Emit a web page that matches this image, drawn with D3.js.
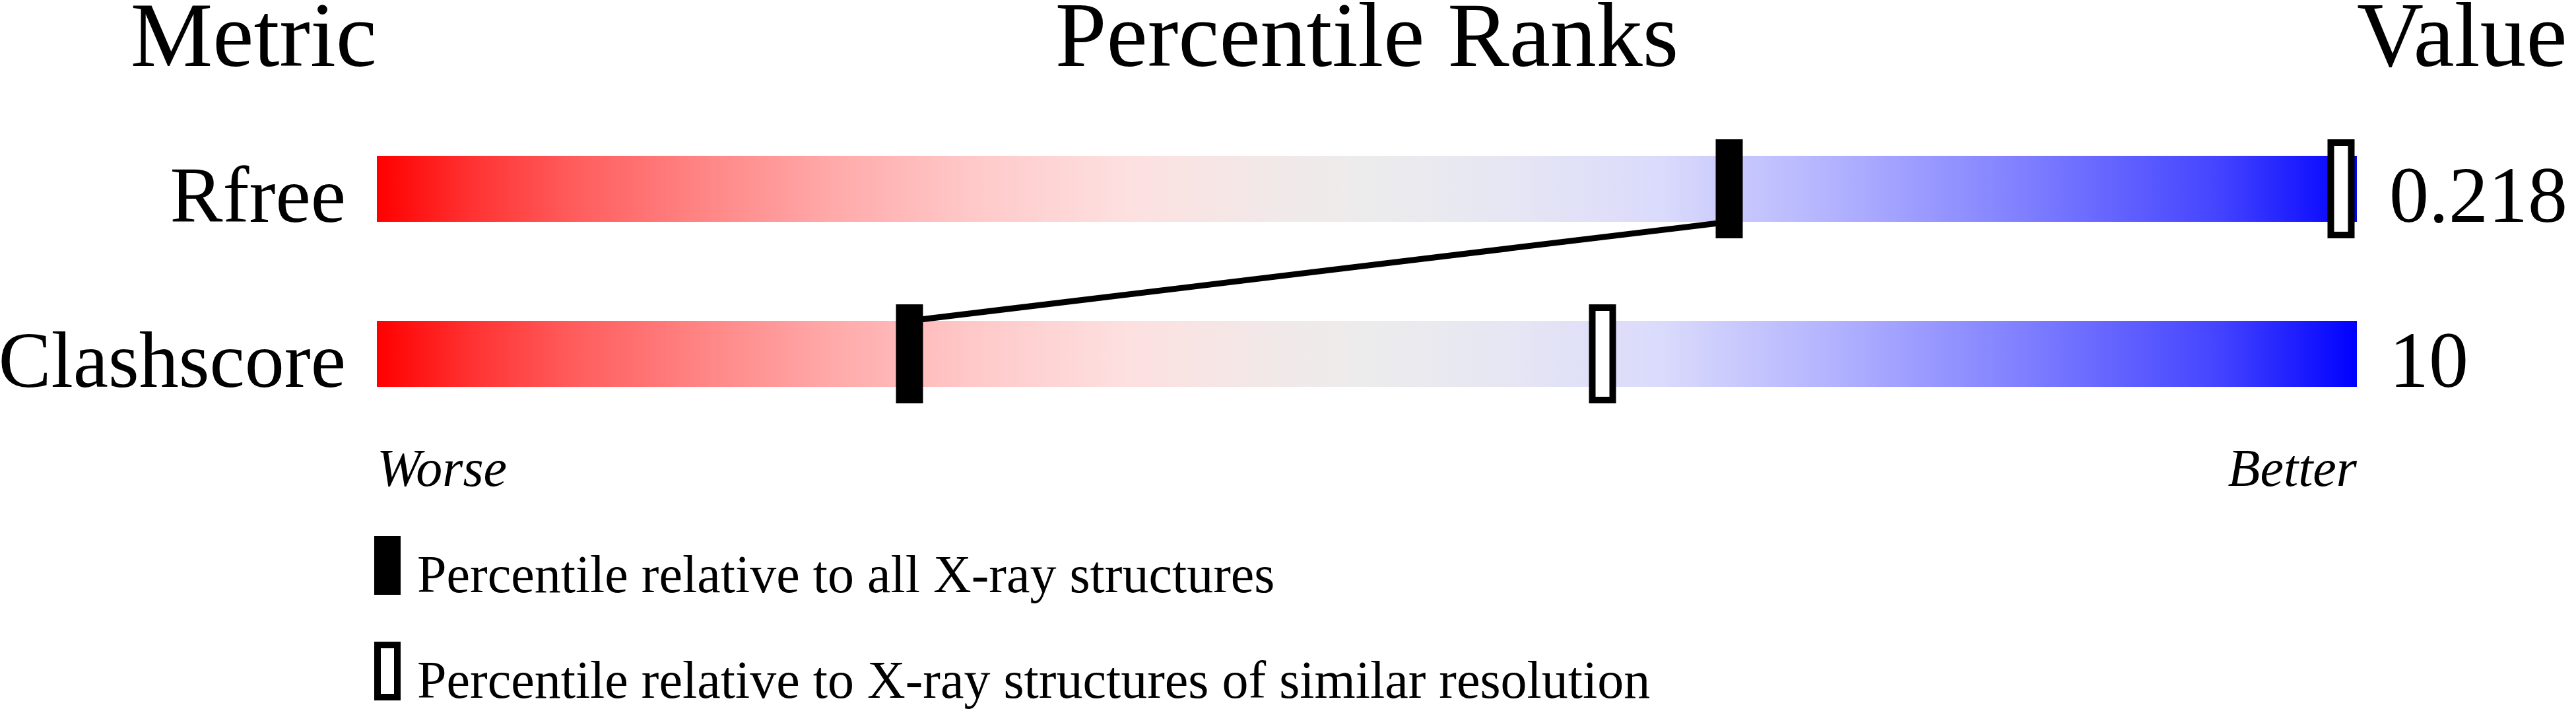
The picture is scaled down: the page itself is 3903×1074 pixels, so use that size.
<!DOCTYPE html>
<html>
<head>
<meta charset="utf-8">
<script src="https://cdn.jsdelivr.net/npm/d3@7"></script>
<style>
  html, body { margin: 0; padding: 0; background: #ffffff; }
  svg { display: block; }
  text { font-family: "Liberation Serif", "Times New Roman", serif; fill: #000; }
</style>
</head>
<body>
<div id="chart"></div>
<script>
// ---- data ----
const metrics = ["Rfree", "Clashscore"];
const valueLabels = ["0.218", "10"];
const pctAll = [68.3, 26.9];      // percentile relative to all X-ray structures
const pctSimilar = [99.2, 61.9];  // percentile relative to structures of similar resolution
const headers = ["Metric", "Percentile Ranks", "Value"];
const axisEnds = ["Worse", "Better"];
const legendLabels = [
  "Percentile relative to all X-ray structures",
  "Percentile relative to X-ray structures of similar resolution"
];

// ---- layout ----
const W = 3903, H = 1074;
const svg = d3.select("#chart").append("svg").attr("width", W).attr("height", H);

const x = d3.scaleLinear().domain([0, 100]).range([571, 3571]);
const y = d3.scaleBand().domain(metrics).range([161, 661]).paddingInner(0.6).paddingOuter(0.3);
const bw = y.bandwidth();
const markW = 41, markExt = 25;

// gradient
const defs = svg.append("defs");
const grad = defs.append("linearGradient").attr("id", "rg").attr("x1", "0%").attr("x2", "100%").attr("y1", "0%").attr("y2", "0%");
const stops = [
  [0, "#ff0000"], [0.05, "#ff3434"], [0.10, "#ff5d5d"], [0.17, "#ff8888"],
  [0.23, "#ffa9a9"], [0.30, "#ffc8c8"], [0.38, "#fde0e0"], [0.45, "#f2e8e8"],
  [0.50, "#ececec"], [0.57, "#e6e6f3"], [0.65, "#dadafc"], [0.74, "#b0b0ff"],
  [0.83, "#8080ff"], [0.93, "#4444ff"], [1, "#0000ff"]
];
grad.selectAll("stop").data(stops).join("stop")
  .attr("offset", d => d[0]).attr("stop-color", d => d[1]);

// headers
const hy = 100;
svg.append("text").attr("x", x(0)).attr("y", hy).attr("text-anchor", "end")
  .attr("font-size", 140).text(headers[0]);
svg.append("text").attr("x", (x(0) + x(100)) / 2).attr("y", hy).attr("text-anchor", "middle")
  .attr("font-size", 140).text(headers[1]);
svg.append("text").attr("x", x(100)).attr("y", hy).attr("text-anchor", "start")
  .attr("font-size", 140).text(headers[2]);

// bars
svg.selectAll("rect.bar").data(metrics).join("rect").attr("class", "bar")
  .attr("x", x(0)).attr("width", x(100) - x(0))
  .attr("y", d => y(d)).attr("height", bw)
  .attr("fill", "url(#rg)");

// metric labels
svg.selectAll("text.metric").data(metrics).join("text").attr("class", "metric")
  .attr("x", 524).attr("y", d => y(d) + bw).attr("text-anchor", "end")
  .attr("font-size", 120).text(d => d);

// value labels
svg.selectAll("text.val").data(valueLabels).join("text").attr("class", "val")
  .attr("x", 3620).attr("y", (d, i) => y(metrics[i]) + bw)
  .attr("font-size", 120).text(d => d);

// connecting line between "all" markers
for (let i = 0; i < metrics.length - 1; i++) {
  svg.append("line")
    .attr("x1", x(pctAll[i])).attr("y1", y(metrics[i]) + bw)
    .attr("x2", x(pctAll[i + 1])).attr("y2", y(metrics[i + 1]))
    .attr("stroke", "#000").attr("stroke-width", 9);
}

// open markers (similar resolution)
svg.selectAll("rect.sim").data(pctSimilar).join("rect").attr("class", "sim")
  .attr("x", d => x(d) - markW / 2 + 5).attr("width", markW - 10)
  .attr("y", (d, i) => y(metrics[i]) - markExt + 5).attr("height", bw + 2 * markExt - 10)
  .attr("fill", "#fff").attr("stroke", "#000").attr("stroke-width", 10);

// solid markers (all)
svg.selectAll("rect.all").data(pctAll).join("rect").attr("class", "all")
  .attr("x", d => x(d) - markW / 2).attr("width", markW)
  .attr("y", (d, i) => y(metrics[i]) - markExt).attr("height", bw + 2 * markExt)
  .attr("fill", "#000");

// Worse / Better
svg.append("text").attr("x", x(0)).attr("y", 736).attr("font-size", 80)
  .attr("font-style", "italic").text(axisEnds[0]);
svg.append("text").attr("x", x(100)).attr("y", 736).attr("font-size", 80)
  .attr("font-style", "italic").attr("text-anchor", "end").text(axisEnds[1]);

// legend
const legY = [812, 972];
svg.append("rect").attr("x", 567).attr("y", legY[0]).attr("width", 40).attr("height", 89).attr("fill", "#000");
svg.append("rect").attr("x", 572).attr("y", legY[1] + 5).attr("width", 30).attr("height", 79)
  .attr("fill", "#fff").attr("stroke", "#000").attr("stroke-width", 10);
svg.selectAll("text.leg").data(legendLabels).join("text").attr("class", "leg")
  .attr("x", 632).attr("y", (d, i) => legY[i] + 85).attr("font-size", 80).text(d => d);
</script>
</body>
</html>
